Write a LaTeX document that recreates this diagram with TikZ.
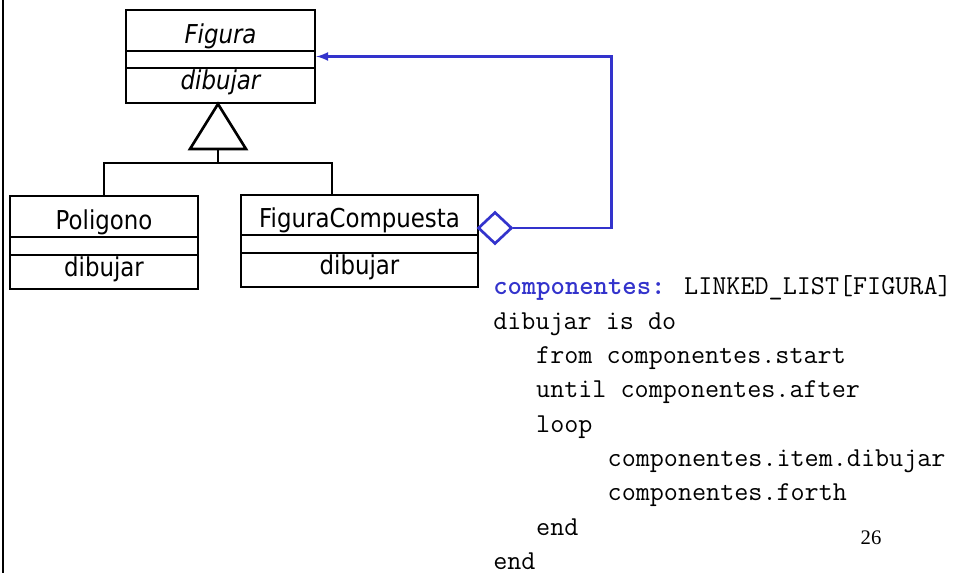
\documentclass[tikz,border=0pt]{standalone}
\usepackage{fontspec}
\setmainfont{Liberation Serif}
\newfontfamily\umlfont[FakeStretch=0.88]{DejaVu Sans}
\usetikzlibrary{arrows,calc,positioning,shapes.geometric}
\definecolor{aggblue}{RGB}{51,51,204}
\tikzset{%
	classbox/.style  = {draw, rectangle, line width=2pt, inner sep=0pt},
	classtext/.style = {font=\umlfont\fontsize{19.5}{22}\selectfont, inner sep=0pt, anchor=base},
	sepline/.style   = {line width=1.6pt},
	genline/.style   = {line width=2pt},
	aggdiamond/.style= {draw=aggblue, fill=white, diamond, line width=2pt, minimum width=25.5pt, minimum height=24pt, inner sep=0pt},
	assoc/.style     = {draw=aggblue, line width=2pt, -latex},
	code/.style      = {font=\ttfamily\fontsize{20.5}{22}\selectfont, inner sep=0pt, anchor=base west},
}
\begin{document}
\begin{tikzpicture}[x=0.75pt,y=-0.75pt]
		\useasboundingbox (0,0) rectangle (956,573);
		\draw[line width=2pt] (3,0) -- (3,573);  % left rule
		
		% classes
		\node[classbox, minimum width=141.75pt, minimum height=69.75pt] (fig) at (220.5,56.5) {};
		\node[classbox, minimum width=141pt, minimum height=69.75pt] (pol) at (104,242.5) {};
		\node[classbox, minimum width=177.75pt, minimum height=69pt] (comp) at (359.5,241) {};
		\foreach \y in {51,68} \draw[sepline] (126,\y) -- (315,\y);
		\foreach \y in {237,255} \draw[sepline] (10,\y) -- (198,\y);
		\foreach \y in {235,253} \draw[sepline] (241,\y) -- (478,\y);
		\node[classtext] (figName) at (220.5,44) {\itshape Figura};
		\node[classtext] (figOp) at (220.5,90) {\itshape dibujar};
		\node[classtext] (polName) at (104,230) {Poligono};
		\node[classtext] (polOp) at (104,277) {dibujar};
		\node[classtext] (compName) at (359.5,228) {FiguraCompuesta};
		\node[classtext] (compOp) at (359.5,275) {dibujar};
		
		% generalization
		\draw[genline] (218,104) -- (190,149) -- (246,149) -- cycle;
		\coordinate (gen) at (218,149);
		\draw[genline] (gen) -- ++(0,14) coordinate (fork);
		\draw[genline] (pol.north) |- (fork) -| ($(comp.north)+(-27.5,0)$);
		
		% aggregation
		\node[aggdiamond] (agg) at (495,228) {};
		\draw[assoc] (agg.east) -- ++(98,0) |- (fig.east);
		
		% code
		\foreach \ind/\txt [count=\i from 0] in {
			0/{\textcolor{aggblue}{\bfseries componentes:} LINKED\_LIST[FIGURA]},
			0/{dibujar is do},
			3/{from componentes.start},
			3/{until componentes.after},
			3/{loop},
			8/{componentes.item.dibujar},
			8/{componentes.forth},
			3/{end},
			0/{end}}
			\node[code] (code\i) at (493+14.3*\ind,295+34.3*\i) {\txt};
		\node[font=\fontsize{15.5}{17}\selectfont, inner sep=0pt, anchor=base] (page) at (871,544) {26};
	\end{tikzpicture}
\end{document}
